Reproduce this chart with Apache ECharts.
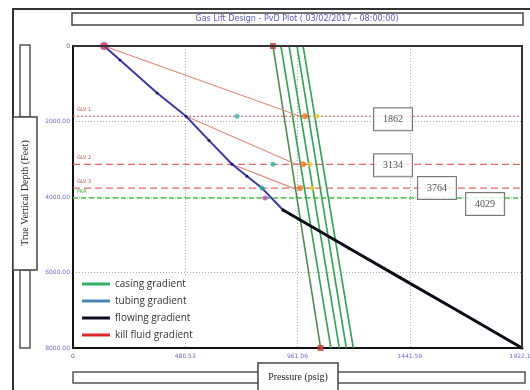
<!DOCTYPE html>
<html>
<head>
<meta charset="utf-8">
<script src="https://cdn.jsdelivr.net/npm/echarts@6/dist/echarts.min.js"></script>
<style>
  html, body { margin: 0; padding: 0; background: #fff; }
  #chart { width: 530px; height: 390px; }
</style>
</head>
<body>
<div id="chart"></div>
<script>
// Axis ticks (psig, feet)
const xTicks = [0, 480.53, 961.06, 1441.59, 1922.12];
const yTicks = [0, 2000, 4000, 6000, 8000];

// Valve depths (ft) and packer depth (ft)
const valveDepths = [1862, 3134, 3764];
const valveTags = ['GLV 1', 'GLV 2', 'GLV 3'];
const packerDepth = 4029;
const packerTag = 'PKR';

// Tubing gradient above the injection point
const tubingPressure = [133, 201, 360, 484, 582, 681, 745, 809, 899];
const tubingDepth    = [0, 371, 1245, 1862, 2500, 3134, 3450, 3764, 4344];

// Flowing gradient below the injection point
const flowingPressure = [899, 1180, 1400, 1660, 1922.12];
const flowingDepth    = [4344, 5350, 6135, 7060, 8000];

// Casing gradients: surface and bottom pressures
const casingTop    = [856, 890, 925, 959, 985];
const casingBottom = [1060, 1104, 1140, 1170, 1200];

// Kill fluid / unloading gradient segments
const killFromP = [133, 484, 681];
const killFromD = [0, 1862, 3134];
const killToP   = [972, 955, 942];

// Point markers at valve depths
const orangeP = [993, 985, 972];
const yellowP = [1045, 1015, 1023];
const tealP   = [702, 856, 809];
const injectionP = 822;

// Depth label boxes: pressure position and vertical nudge (px)
const boxP = [1370, 1370, 1558, 1764];
const boxNudge = [3, 1, 0, 6];

const BLUE_LBL = '#6b6bd8';
const series = [];

// Horizontal valve lines
valveDepths.forEach((d, i) => {
  series.push({
    type: 'line', name: 'valve' + i, silent: true, symbol: 'none',
    data: [[0, d], [xTicks[4], d]],
    lineStyle: { color: '#e46a6a', width: 1.2, type: i === 0 ? [2, 2] : [7, 4] },
    markPoint: {
      symbol: 'rect', symbolSize: 0,
      data: [{ coord: [0, d] }],
      label: { show: true, position: [4, -9], formatter: valveTags[i], color: '#e05050', fontSize: 5, fontFamily: 'DejaVu Sans' }
    },
    z: 2
  });
});
// Packer line
series.push({
  type: 'line', name: 'packer', silent: true, symbol: 'none',
  data: [[0, packerDepth], [xTicks[4], packerDepth]],
  lineStyle: { color: '#44cc44', width: 1.5, type: [5, 3] },
  markPoint: {
    symbol: 'rect', symbolSize: 0,
    data: [{ coord: [0, packerDepth] }],
    label: { show: true, position: [4, -9], formatter: packerTag, color: '#30b030', fontSize: 5, fontFamily: 'DejaVu Sans' }
  },
  z: 2
});

// Casing gradients
casingTop.forEach((p, i) => {
  series.push({
    type: 'line', name: 'casing gradient', symbol: 'none',
    data: [[p, 0], [casingBottom[i], 8000]],
    lineStyle: { color: i === 0 ? '#4a8a50' : '#2fa452', width: 1.6 },
    itemStyle: { color: '#2fa452' },
    z: 3
  });
});

// Kill fluid gradients
killFromP.forEach((p, i) => {
  series.push({
    type: 'line', name: 'kill fluid gradient', symbol: 'none',
    data: [[p, killFromD[i]], [killToP[i], valveDepths[i]]],
    lineStyle: { color: '#e58a7c', width: 1.2 },
    itemStyle: { color: '#e58a7c' },
    z: 4
  });
});

// Tubing gradient
series.push({
  type: 'line', name: 'tubing gradient',
  data: tubingPressure.map((p, i) => [p, tubingDepth[i]]),
  symbol: 'circle', symbolSize: 3,
  lineStyle: { color: '#3838b0', width: 2 },
  itemStyle: { color: '#1c1c70' },
  z: 5
});

// Flowing gradient
series.push({
  type: 'line', name: 'flowing gradient',
  data: flowingPressure.map((p, i) => [p, flowingDepth[i]]),
  symbol: 'circle', symbolSize: 3,
  lineStyle: { color: '#0c0c18', width: 3 },
  itemStyle: { color: '#0c0c18' },
  z: 5
});

// Markers
function markers(name, pts, color, size, shape) {
  series.push({
    type: 'scatter', name: name, silent: true,
    data: pts, symbol: shape || 'circle', symbolSize: size,
    itemStyle: { color: color }, z: 6
  });
}
markers('orange', orangeP.map((p, i) => [p, valveDepths[i]]), '#e8741c', 6);
markers('yellow', yellowP.map((p, i) => [p, valveDepths[i]]), '#e6cc30', 5);
markers('teal', tealP.map((p, i) => [p, valveDepths[i]]), '#2cb8a8', 5);
markers('inj', [[injectionP, packerDepth]], '#c040c0', 5);
markers('surface', [[tubingPressure[0], 0]], '#d0306a', 8);
markers('casingEnds', [[casingTop[0], 0], [casingBottom[0], 8000]], '#c83a30', 6, 'rect');

// Depth boxes, one series each
const boxDepths = valveDepths.concat([packerDepth]);
boxDepths.forEach((d, i) => {
  series.push({
    type: 'scatter', name: 'box' + i, silent: true, symbolSize: 1,
    itemStyle: { color: 'rgba(0,0,0,0)' },
    data: [[boxP[i], d]],
    label: {
      show: true, position: 'inside',
      formatter: p => String(p.value[1]),
      backgroundColor: '#fff', borderColor: '#555', borderWidth: 1,
      padding: [6, 9], color: '#222', fontSize: 10, fontFamily: 'Liberation Serif'
    },
    labelLayout: { hideOverlap: false, dy: boxNudge[i] },
    z: 10
  });
});

const chart = echarts.init(document.getElementById('chart'), null, { renderer: 'canvas' });
chart.setOption({
  animation: false,
  backgroundColor: '#fff',
  grid: {
    left: 73, top: 46, right: 8, bottom: 42, containLabel: false, outerBoundsMode: 'none',
    show: true, borderColor: '#444', borderWidth: 1.5, backgroundColor: '#fff'
  },
  xAxis: {
    type: 'value', min: xTicks[0], max: xTicks[4], interval: xTicks[1],
    axisLine: { show: true, onZero: false, lineStyle: { color: '#111', width: 2 } },
    axisTick: { show: false },
    splitLine: { show: true, lineStyle: { color: '#aaa', type: [1, 2], width: 1 } },
    axisLabel: {
      fontSize: 6, margin: 5, fontFamily: 'DejaVu Sans',
      formatter: v => v === 0 ? '{z|0}' : v.toFixed(2),
      color: BLUE_LBL, rich: { z: { color: '#666', fontSize: 6 } }
    }
  },
  yAxis: {
    type: 'value', inverse: true, min: yTicks[0], max: yTicks[4], interval: yTicks[1],
    axisLine: { show: true, onZero: false, lineStyle: { color: '#111', width: 2 } },
    axisTick: { show: false },
    splitLine: { show: true, lineStyle: { color: '#aaa', type: [1, 2], width: 1 } },
    axisLabel: {
      fontSize: 6, margin: 3, fontFamily: 'DejaVu Sans',
      formatter: v => v === 0 ? '{z|0}' : v.toFixed(2),
      color: BLUE_LBL, rich: { z: { color: '#666', fontSize: 6 } }
    }
  },
  legend: {
    orient: 'vertical', left: 78, top: 276,
    icon: 'rect', itemWidth: 28, itemHeight: 3, itemGap: 5,
    backgroundColor: '#fff', padding: [2, 4],
    textStyle: { fontSize: 10, color: '#333', fontFamily: 'Open Sans', lineHeight: 12 },
    selectedMode: false,
    data: [
      { name: 'casing gradient', itemStyle: { color: '#2fae6a' } },
      { name: 'tubing gradient', itemStyle: { color: '#4a86b4' } },
      { name: 'flowing gradient', itemStyle: { color: '#0c0c28' } },
      { name: 'kill fluid gradient', itemStyle: { color: '#e02828' } }
    ]
  },
  graphic: [
    // outer frame
    { type: 'polyline', shape: { points: [[13, 390], [13, 9], [530, 9]] }, style: { stroke: '#333', lineWidth: 2, fill: null } },
    // plot frame top and right edges
    { type: 'polyline', z: 100, shape: { points: [[73, 46], [522, 46], [522, 348]] }, style: { stroke: '#333', lineWidth: 2, fill: null } },
    // title box
    { type: 'rect', shape: { x: 72, y: 13, width: 451, height: 12 }, style: { fill: '#fff', stroke: '#444', lineWidth: 1.5 } },
    { type: 'text', x: 297, y: 19, style: { text: 'Gas Lift Design - PvD Plot ( 03/02/2017 - 08:00:00)', fill: '#5a5ad0', font: '8px "DejaVu Sans"', align: 'center', verticalAlign: 'middle' } },
    // vertical axis caption box
    { type: 'rect', shape: { x: 20, y: 45, width: 10, height: 72 }, style: { fill: '#fff', stroke: '#555', lineWidth: 1.5 } },
    { type: 'rect', shape: { x: 20, y: 270, width: 10, height: 78 }, style: { fill: '#fff', stroke: '#555', lineWidth: 1.5 } },
    { type: 'rect', shape: { x: 13, y: 117, width: 24, height: 153 }, style: { fill: '#fff', stroke: '#444', lineWidth: 1.5 } },
    { type: 'text', x: 25, y: 193, rotation: Math.PI / 2, style: { text: 'True Vertical Depth (Feet)', fill: '#222', font: '10px "Liberation Serif"', align: 'center', verticalAlign: 'middle' } },
    // horizontal axis caption box
    { type: 'rect', shape: { x: 73, y: 372, width: 452, height: 11 }, style: { fill: '#fff', stroke: '#555', lineWidth: 1.5 } },
    { type: 'rect', shape: { x: 258, y: 363, width: 80, height: 30 }, style: { fill: '#fff', stroke: '#444', lineWidth: 1.5 } },
    { type: 'text', x: 298, y: 377, style: { text: 'Pressure (psig)', fill: '#222', font: '10px "Liberation Serif"', align: 'center', verticalAlign: 'middle' } }
  ],
  series: series
});
</script>
</body>
</html>
